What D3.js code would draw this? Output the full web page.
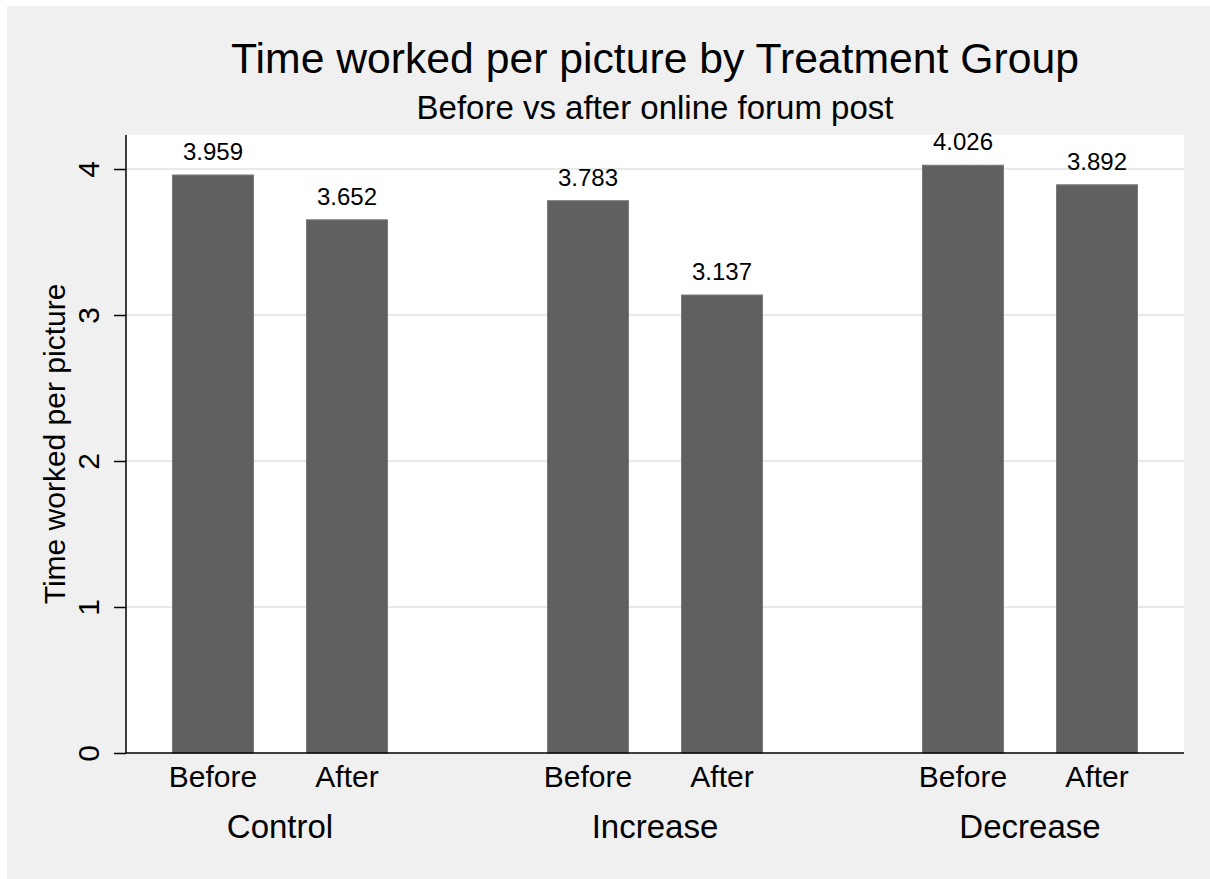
<!DOCTYPE html>
<html>
<head>
<meta charset="utf-8">
<script src="https://cdn.jsdelivr.net/npm/d3@7"></script>
<style>
  html, body { margin: 0; padding: 0; background: #fff; }
  svg { display: block; font-family: "Liberation Sans", Arial, sans-serif; }
</style>
</head>
<body>
<svg id="chart" width="1210" height="879"></svg>
<script>
// --- data ---
const groups = ["Control", "Increase", "Decrease"];
const periods = ["Before", "After"];
const before = [3.959, 3.783, 4.026];
const after = [3.652, 3.137, 3.892];
const yTicks = [0, 1, 2, 3, 4];

const rows = groups.flatMap((g, i) => [
  { group: g, period: "Before", value: before[i] },
  { group: g, period: "After", value: after[i] }
]);

const W = 1210, H = 879;
const plot = { left: 126, right: 1184, top: 135, bottom: 753 };
const barW = 81;

const svg = d3.select("#chart");

// outer background (Stata-ish light grey graph region)
svg.append("rect").attr("x", 7).attr("y", 6).attr("width", W - 7).attr("height", H - 6)
  .attr("fill", "#f0f0f0");
svg.append("rect").attr("x", plot.left).attr("y", plot.top)
  .attr("width", plot.right - plot.left).attr("height", plot.bottom - plot.top)
  .attr("fill", "#fff");

const y = d3.scaleLinear().domain([0, 4.233]).range([plot.bottom, plot.top]);
const xg = d3.scalePoint().domain(groups).range([plot.left, plot.right]).padding(0.4107);
const xp = d3.scalePoint().domain(periods).range([-67, 67]);
const cx = (d) => xg(d.group) + xp(d.period);

// grid lines
svg.append("g").selectAll("line").data(yTicks.filter((t) => t > 0)).join("line")
  .attr("x1", plot.left).attr("x2", plot.right)
  .attr("y1", (d) => y(d)).attr("y2", (d) => y(d))
  .attr("stroke", "#e8e8e8").attr("stroke-width", 2);

// bars
svg.append("g").selectAll("rect").data(rows).join("rect")
  .attr("x", (d) => cx(d) - barW / 2).attr("width", barW)
  .attr("y", (d) => y(d.value)).attr("height", (d) => y(0) - y(d.value))
  .attr("fill", "#606060").attr("stroke", "#7a7a7a").attr("stroke-width", 1);

// value labels
svg.append("g").selectAll("text").data(rows).join("text")
  .attr("x", cx).attr("y", (d) => y(d.value) - 15)
  .attr("text-anchor", "middle").attr("font-size", 24).attr("fill", "#000")
  .text((d) => d3.format(".3f")(d.value));

// y axis
const yAxis = svg.append("g").attr("transform", `translate(${plot.left},0)`)
  .call(d3.axisLeft(y).tickValues(yTicks).tickSize(12).tickFormat(d3.format("d")));
yAxis.select(".domain").attr("stroke", "#000").attr("stroke-width", 1.5)
  .attr("d", `M0,${plot.top}V${plot.bottom}`);
yAxis.selectAll(".tick line").attr("stroke", "#000").attr("stroke-width", 1.5);
yAxis.selectAll(".tick text")
  .attr("x", null).attr("dy", null)
  .attr("transform", "translate(-27,0) rotate(-90)")
  .attr("text-anchor", "middle").attr("font-size", 30).attr("fill", "#000")
  .attr("font-family", "Liberation Sans, Arial, sans-serif");

// x axis line
svg.append("line").attr("x1", plot.left).attr("x2", plot.right)
  .attr("y1", plot.bottom).attr("y2", plot.bottom)
  .attr("stroke", "#000").attr("stroke-width", 1.5);

// period labels under bars
svg.append("g").selectAll("text").data(rows).join("text")
  .attr("x", cx).attr("y", 787)
  .attr("text-anchor", "middle").attr("font-size", 30).text((d) => d.period);

// group labels
svg.append("g").selectAll("text").data(groups).join("text")
  .attr("x", (d) => xg(d)).attr("y", 838)
  .attr("text-anchor", "middle").attr("font-size", 33).text((d) => d);

// y title
svg.append("text").attr("transform", `translate(65,${(plot.top + plot.bottom) / 2}) rotate(-90)`)
  .attr("text-anchor", "middle").attr("font-size", 30).text("Time worked per picture");

// titles
const mid = (plot.left + plot.right) / 2;
svg.append("text").attr("x", mid).attr("y", 73).attr("text-anchor", "middle")
  .attr("font-size", 42.7).text("Time worked per picture by Treatment Group");
svg.append("text").attr("x", mid).attr("y", 119).attr("text-anchor", "middle")
  .attr("font-size", 33).text("Before vs after online forum post");
</script>
</body>
</html>
